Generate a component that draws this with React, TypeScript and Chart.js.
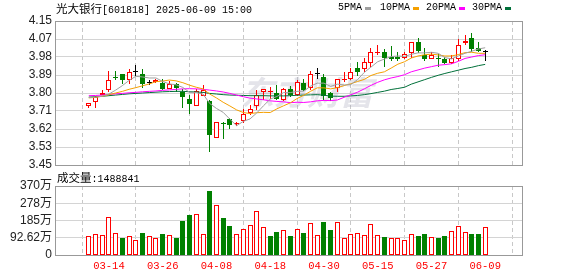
import React, { useEffect, useRef } from "react";
import { Chart, registerables } from "chart.js";

Chart.register(...registerables);

// ---------- data ----------
const stockName = "光大银行";
const stockMeta = "[601818] 2025-06-09 15:00";
const lastVolumeText = ":1488841";

const dates = [
  "03-11", "03-12", "03-13", "03-14", "03-17", "03-18", "03-19", "03-20", "03-21", "03-24",
  "03-25", "03-26", "03-27", "03-28", "03-31", "04-01", "04-02", "04-03", "04-07", "04-08",
  "04-09", "04-10", "04-11", "04-14", "04-15", "04-16", "04-17", "04-18", "04-21", "04-22",
  "04-23", "04-24", "04-25", "04-28", "04-29", "04-30", "05-06", "05-07", "05-08", "05-09",
  "05-12", "05-13", "05-14", "05-15", "05-16", "05-19", "05-20", "05-21", "05-22", "05-23",
  "05-26", "05-27", "05-28", "05-29", "05-30", "06-03", "06-04", "06-05", "06-06", "06-09",
];

const opens = [
  3.737, 3.758, 3.789, 3.815, 3.879, 3.891, 3.865, 3.904, 3.891, 3.850,
  3.852, 3.850, 3.818, 3.842, 3.806, 3.772, 3.737, 3.787, 3.760, 3.580,
  3.653, 3.672, 3.648, 3.664, 3.704, 3.737, 3.806, 3.806, 3.802, 3.766,
  3.821, 3.789, 3.850, 3.826, 3.894, 3.879, 3.802, 3.824, 3.862, 3.870,
  3.923, 3.915, 3.947, 3.993, 4.001, 3.975, 3.975, 3.972, 3.993, 4.049,
  3.983, 3.967, 3.972, 3.964, 3.947, 3.967, 4.041, 4.069, 4.020, 4.000,
];
const highs = [
  3.753, 3.783, 3.813, 3.907, 3.905, 3.891, 3.915, 3.934, 3.915, 3.862,
  3.866, 3.870, 3.858, 3.850, 3.821, 3.789, 3.820, 3.840, 3.765, 3.661,
  3.659, 3.680, 3.661, 3.724, 3.743, 3.813, 3.821, 3.829, 3.840, 3.826,
  3.834, 3.862, 3.870, 3.907, 3.923, 3.891, 3.805, 3.870, 3.904, 3.923,
  3.952, 3.972, 4.020, 4.032, 4.012, 4.030, 4.001, 4.001, 4.049, 4.069,
  4.020, 4.001, 3.992, 3.975, 3.985, 4.061, 4.080, 4.093, 4.049, 4.010,
];
const lows = [
  3.727, 3.727, 3.789, 3.805, 3.863, 3.844, 3.842, 3.883, 3.826, 3.839,
  3.847, 3.815, 3.818, 3.805, 3.727, 3.700, 3.737, 3.785, 3.512, 3.580,
  3.578, 3.623, 3.640, 3.656, 3.693, 3.717, 3.766, 3.769, 3.764, 3.761,
  3.782, 3.785, 3.810, 3.815, 3.866, 3.765, 3.760, 3.805, 3.853, 3.863,
  3.883, 3.904, 3.926, 3.985, 3.926, 3.956, 3.956, 3.964, 3.972, 3.996,
  3.956, 3.964, 3.925, 3.943, 3.943, 3.956, 4.032, 4.001, 3.999, 3.956,
];
const closes = [
  3.753, 3.781, 3.802, 3.862, 3.873, 3.863, 3.904, 3.904, 3.844, 3.850,
  3.862, 3.818, 3.845, 3.826, 3.782, 3.745, 3.808, 3.815, 3.596, 3.661,
  3.650, 3.644, 3.653, 3.700, 3.724, 3.792, 3.821, 3.811, 3.769, 3.818,
  3.789, 3.853, 3.815, 3.891, 3.894, 3.785, 3.776, 3.870, 3.870, 3.904,
  3.904, 3.952, 4.001, 4.001, 3.968, 3.965, 3.965, 3.991, 4.049, 4.004,
  3.964, 3.983, 3.964, 3.947, 3.972, 4.032, 4.051, 4.012, 4.004, 4.000,
];

const ma5 = [
  3.778, 3.780, 3.784, 3.795, 3.814, 3.836, 3.861, 3.881, 3.878, 3.873,
  3.873, 3.856, 3.844, 3.840, 3.827, 3.803, 3.801, 3.795, 3.749, 3.725,
  3.706, 3.673, 3.641, 3.662, 3.674, 3.703, 3.738, 3.770, 3.783, 3.802,
  3.802, 3.808, 3.809, 3.833, 3.848, 3.848, 3.832, 3.843, 3.839, 3.841,
  3.865, 3.900, 3.926, 3.952, 3.965, 3.977, 3.980, 3.978, 3.988, 3.995,
  3.995, 3.998, 3.993, 3.972, 3.966, 3.980, 3.993, 4.003, 4.014, 4.020,
];
const ma10 = [
  3.776, 3.779, 3.784, 3.792, 3.800, 3.808, 3.818, 3.826, 3.835, 3.844,
  3.855, 3.858, 3.863, 3.859, 3.850, 3.838, 3.828, 3.820, 3.795, 3.776,
  3.755, 3.737, 3.718, 3.705, 3.700, 3.704, 3.706, 3.705, 3.723, 3.738,
  3.752, 3.773, 3.789, 3.808, 3.825, 3.825, 3.820, 3.826, 3.836, 3.845,
  3.856, 3.866, 3.885, 3.896, 3.903, 3.921, 3.940, 3.952, 3.970, 3.980,
  3.986, 3.989, 3.985, 3.980, 3.980, 3.987, 3.996, 3.998, 3.993, 3.993,
];
const ma20 = [
  3.787, 3.788, 3.790, 3.793, 3.796, 3.798, 3.801, 3.803, 3.806, 3.808,
  3.810, 3.813, 3.815, 3.818, 3.820, 3.821, 3.820, 3.818, 3.814, 3.810,
  3.805, 3.798, 3.790, 3.782, 3.775, 3.771, 3.767, 3.762, 3.759, 3.757,
  3.753, 3.755, 3.754, 3.757, 3.762, 3.764, 3.763, 3.766, 3.779, 3.791,
  3.804, 3.820, 3.837, 3.852, 3.864, 3.873, 3.880, 3.889, 3.903, 3.912,
  3.921, 3.928, 3.935, 3.938, 3.942, 3.954, 3.968, 3.975, 3.982, 3.986,
];
const ma30 = [
  3.780, 3.782, 3.784, 3.787, 3.790, 3.793, 3.796, 3.798, 3.800, 3.802,
  3.804, 3.806, 3.807, 3.808, 3.808, 3.806, 3.805, 3.803, 3.798, 3.795,
  3.792, 3.790, 3.789, 3.788, 3.787, 3.787, 3.787, 3.786, 3.786, 3.786,
  3.787, 3.789, 3.790, 3.791, 3.792, 3.789, 3.785, 3.784, 3.784, 3.786,
  3.788, 3.792, 3.797, 3.803, 3.809, 3.817, 3.822, 3.828, 3.843, 3.854,
  3.865, 3.876, 3.886, 3.895, 3.903, 3.911, 3.919, 3.925, 3.933, 3.939,
];

// volume in 万 (10k)
const volumes = [
  101.9, 112.6, 107.0, 202.0, 118.0, 91.0, 100.0, 80.0, 118.0, 100.0,
  91.0, 112.0, 107.0, 91.0, 182.0, 214.0, 220.0, 112.0, 345.0, 268.0,
  198.0, 156.0, 112.0, 139.0, 161.0, 236.0, 150.0, 102.0, 123.0, 134.0,
  102.0, 137.6, 119.7, 171.6, 107.2, 178.7, 134.1, 176.9, 89.4, 112.6,
  118.0, 105.5, 166.2, 107.2, 96.5, 91.2, 91.2, 80.4, 112.6, 101.9,
  112.6, 96.5, 91.2, 101.9, 126.9, 153.7, 123.3, 112.6, 112.6, 148.9,
];
// 1 = rising day (red), 0 = falling day (green)
const volumeUp = [
  1, 1, 1, 1, 1, 0, 1, 1, 0, 1,
  1, 0, 1, 0, 0, 0, 1, 1, 0, 1,
  0, 0, 1, 1, 1, 1, 1, 0, 0, 1,
  0, 1, 0, 1, 1, 0, 0, 1, 1, 1,
  1, 1, 1, 1, 0, 1, 1, 1, 1, 0,
  0, 1, 0, 0, 1, 1, 1, 0, 0, 1,
];

const tickIndices = [3, 11, 19, 27, 35, 43, 51, 59];
const priceTickLabels = ["3.45", "3.53", "3.62", "3.71", "3.80", "3.89", "3.98", "4.07", "4.15"];
const priceMin = 3.45;
const priceMax = 4.15;
const volumeTickLabels = ["0", "92.62万", "185万", "278万", "370万"];
const volumeMax = 370;

const maNames = ["5PMA", "10PMA", "20PMA", "30PMA"];

// ---------- styles ----------
const RED = "#ff0000";
const GREEN = "#008000";
const BLACK = "#000000";
const MA_COLORS = ["#a0a0a0", "#f5a000", "#ff00ff", "#00703a"];
const X_MIN = -0.685;
const X_MAX = 60.135;
const MONO = "'Liberation Mono', 'DejaVu Sans Mono', monospace";
const SANS = "'Liberation Sans', Arial, 'Noto Sans CJK SC', sans-serif";
const CJK = "'Noto Sans CJK SC', sans-serif";

const idx = dates.map((_, i) => i);

const snapPlugin = {
  id: "snap",
  afterDatasetsUpdate(chart: any) {
    chart.data.datasets.forEach((_: any, di: number) => {
      const meta = chart.getDatasetMeta(di);
      if (meta.type !== "bar") return;
      meta.data.forEach((el: any) => {
        el.x = Math.floor(el.x) + 0.5;
        const y = Math.round(el.y);
        let b = Math.round(el.base);
        if (Math.abs(y - b) < 1) b = y + 1;
        el.y = y;
        el.base = b;
      });
    });
  },
};

const framePlugin = {
  id: "frame",
  afterDraw(chart: any) {
    const { left, top, right, bottom } = chart.chartArea;
    const ctx = chart.ctx;
    ctx.save();
    ctx.strokeStyle = "#999999";
    ctx.lineWidth = 1;
    ctx.setLineDash([]);
    ctx.strokeRect(Math.round(left) + 0.5, Math.round(top) + 0.5, Math.round(right - left), Math.round(bottom - top));
    ctx.restore();
  },
};

const watermarkPlugin = {
  id: "watermark",
  beforeDatasetsDraw(chart: any) {
    const ctx = chart.ctx;
    ctx.save();
    ctx.fillStyle = "rgba(165,165,185,0.3)";
    ctx.font = "italic bold 33px 'Noto Sans CJK SC'";
    ctx.textBaseline = "middle";
    ctx.textAlign = "left";
    ctx.fillText("东方财富", 241, 92);
    ctx.restore();
  },
};

function xScale(showLabels: boolean) {
  return {
    type: "linear",
    min: X_MIN,
    max: X_MAX,
    afterBuildTicks: (s: any) => {
      s.ticks = tickIndices.map((v) => ({ value: v }));
    },
    afterFit: (s: any) => {
      s.height = showLabels ? 21 : 0;
    },
    grid: { color: "#c8c8c8", drawTicks: false, lineWidth: 1 },
    border: { display: false, dash: [4, 3] },
    ticks: {
      display: showLabels,
      autoSkip: false,
      maxRotation: 0,
      padding: 5,
      color: RED,
      font: { family: MONO, size: 10.5 },
      callback: (v: any) => dates[Math.round(v)],
    },
  };
}

export default function App() {
  const priceRef = useRef<HTMLCanvasElement>(null);
  const volRef = useRef<HTMLCanvasElement>(null);

  useEffect(() => {
    const candleColor = idx.map((i) =>
      closes[i] > opens[i] ? RED : closes[i] < opens[i] ? GREEN : BLACK
    );
    const bodyFill = idx.map((i) => (closes[i] > opens[i] ? "#ffffff" : candleColor[i]));
    const mas = [ma5, ma10, ma20, ma30];

    const priceChart = new Chart(priceRef.current as HTMLCanvasElement, {
      type: "bar",
      data: {
        datasets: [
          ...mas.map((arr, k) => ({
            type: "line",
            label: maNames[k],
            data: arr.map((v, i) => ({ x: i, y: v })),
            borderColor: MA_COLORS[k],
            borderWidth: 1,
            pointRadius: 0,
            tension: 0,
            fill: false,
            order: 0,
          })),
          {
            type: "bar",
            label: "body",
            data: idx.map((i) => ({ x: i, y: [opens[i], closes[i]] })),
            backgroundColor: bodyFill,
            borderColor: candleColor,
            borderWidth: 1,
            borderSkipped: false,
            barThickness: 5,
            grouped: false,
            minBarLength: 1,
            inflateAmount: 0,
            order: 1,
          },
          {
            type: "bar",
            label: "wick",
            data: idx.map((i) => ({ x: i, y: [lows[i], highs[i]] })),
            backgroundColor: candleColor,
            borderWidth: 0,
            barThickness: 1,
            grouped: false,
            inflateAmount: 0,
            order: 2,
          },
        ] as any,
      },
      options: {
        responsive: false,
        animation: false,
        events: [],
        layout: { padding: { left: 0, right: 56, top: 21, bottom: 111 } },
        plugins: { legend: { display: false }, tooltip: { enabled: false } },
        scales: {
          x: xScale(false) as any,
          y: {
            min: priceMin,
            max: priceMax,
            afterBuildTicks: (s: any) => {
              const step = (priceMax - priceMin) / (priceTickLabels.length - 1);
              s.ticks = priceTickLabels.map((_, k) => ({ value: priceMin + k * step }));
            },
            afterFit: (s: any) => {
              s.width = 55;
            },
            grid: { color: "#d4d4d4", drawTicks: false },
            border: { display: false },
            ticks: {
              autoSkip: false,
              padding: 3,
              color: "#222222",
              font: { family: SANS, size: 12 },
              callback: (_v: any, k: number) => priceTickLabels[k],
            },
          },
        },
      },
      plugins: [snapPlugin, watermarkPlugin, framePlugin],
    });

    const volChart = new Chart(volRef.current as HTMLCanvasElement, {
      type: "bar",
      data: {
        datasets: [
          {
            label: "volume",
            data: idx.map((i) => ({ x: i, y: volumes[i] })),
            backgroundColor: idx.map((i) => (volumeUp[i] ? "#ffffff" : GREEN)),
            borderColor: idx.map((i) => (volumeUp[i] ? RED : GREEN)),
            borderWidth: 1,
            borderSkipped: false,
            barThickness: 5,
            grouped: false,
            inflateAmount: 0,
          },
        ] as any,
      },
      options: {
        responsive: false,
        animation: false,
        events: [],
        layout: { padding: { left: 0, right: 56, top: 186, bottom: 0 } },
        plugins: { legend: { display: false }, tooltip: { enabled: false } },
        scales: {
          x: xScale(true) as any,
          y: {
            min: 0,
            max: volumeMax,
            afterBuildTicks: (s: any) => {
              const step = volumeMax / (volumeTickLabels.length - 1);
              s.ticks = volumeTickLabels.map((_, k) => ({ value: k * step }));
            },
            afterFit: (s: any) => {
              s.width = 55;
            },
            grid: { color: "#d4d4d4", drawTicks: false },
            border: { display: false },
            ticks: {
              autoSkip: false,
              padding: 3,
              color: "#222222",
              font: { family: SANS, size: 12 },
              callback: (_v: any, k: number) => volumeTickLabels[k],
            },
          },
        },
      },
      plugins: [snapPlugin, framePlugin],
    });

    return () => {
      priceChart.destroy();
      volChart.destroy();
    };
  }, []);

  const legendTextX = [338, 380, 426, 472];
  const legendBoxX = [365, 413, 459, 505];

  return (
    <div
      style={{
        position: "absolute",
        left: 0,
        top: 0,
        width: 578,
        height: 276,
        background: "#ffffff",
        overflow: "hidden",
      }}
    >
      <canvas ref={priceRef} width={578} height={276} style={{ position: "absolute", left: 0, top: 0 }} />
      <canvas ref={volRef} width={578} height={276} style={{ position: "absolute", left: 0, top: 0 }} />
      <div style={{ position: "absolute", left: 56, top: 1, lineHeight: "14px", whiteSpace: "nowrap", color: "#000" }}>
        <span style={{ fontFamily: CJK, fontSize: 11.5 }}>{stockName}</span>
        <span style={{ fontFamily: MONO, fontSize: 10 }}>{stockMeta}</span>
      </div>
      {maNames.map((n, k) => (
        <React.Fragment key={n}>
          <div
            style={{
              position: "absolute",
              left: legendTextX[k],
              top: 2,
              lineHeight: "12px",
              fontFamily: MONO,
              fontSize: 10,
              color: "#000",
              whiteSpace: "nowrap",
            }}
          >
            {n}
          </div>
          <div
            style={{
              position: "absolute",
              left: legendBoxX[k],
              top: 7,
              width: 6,
              height: 3,
              background: MA_COLORS[k],
            }}
          />
        </React.Fragment>
      ))}
      <div style={{ position: "absolute", left: 57, top: 170, lineHeight: "14px", whiteSpace: "nowrap", color: "#000" }}>
        <span style={{ fontFamily: CJK, fontSize: 11.5 }}>成交量</span>
        <span style={{ fontFamily: MONO, fontSize: 10 }}>{lastVolumeText}</span>
      </div>
    </div>
  );
}
